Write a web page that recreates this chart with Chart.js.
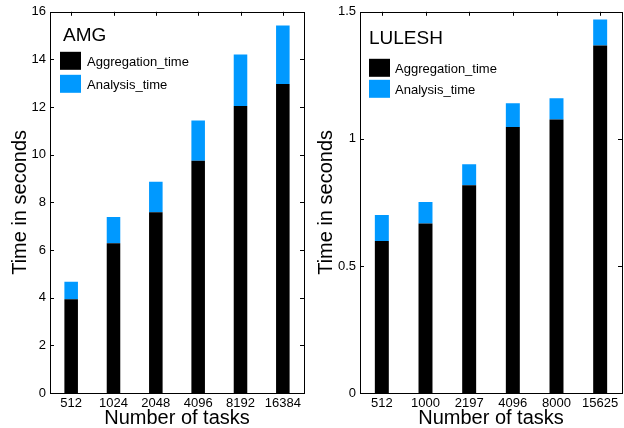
<!DOCTYPE html>
<html>
<head>
<meta charset="utf-8">
<script src="https://cdn.jsdelivr.net/npm/chart.js@4.4.1/dist/chart.umd.min.js"></script>
<style>
  body { margin: 0; background: #fff; }
  #wrap { position: relative; width: 624px; height: 428px; }
  canvas { position: absolute; top: 0; }
</style>
</head>
<body>
<div id="wrap">
  <canvas id="amg" width="312" height="428" style="left:0"></canvas>
  <canvas id="lulesh" width="312" height="428" style="left:312px"></canvas>
</div>
<script>
// data
var amgTasks = ['512', '1024', '2048', '4096', '8192', '16384'];
var amgAggregation = [3.93, 6.29, 7.59, 9.75, 12.05, 12.97];
var amgAnalysis = [0.74, 1.10, 1.28, 1.69, 2.16, 2.46];

var luleshTasks = ['512', '1000', '2197', '4096', '8000', '15625'];
var luleshAggregation = [0.598, 0.667, 0.817, 1.047, 1.076, 1.367];
var luleshAnalysis = [0.102, 0.085, 0.083, 0.093, 0.084, 0.103];

var FONT = "'Liberation Sans', Arial, Helvetica, sans-serif";

// matlab style box, inward ticks and the legend inside the plot
var boxPlugin = {
    id: 'matlabBox',
    afterDraw: function (chart, args, opts) {
        var ctx = chart.ctx;
        var a = chart.chartArea;
        var x = chart.scales.x, y = chart.scales.y;
        ctx.save();
        ctx.strokeStyle = '#000';
        ctx.lineWidth = 1;
        ctx.strokeRect(Math.round(a.left) + 0.5, Math.round(a.top) + 0.5,
            Math.round(a.right - a.left), Math.round(a.bottom - a.top));
        ctx.beginPath();
        y.ticks.forEach(function (t) {
            var py = Math.round(y.getPixelForValue(t.value)) + 0.5;
            ctx.moveTo(a.left, py); ctx.lineTo(a.left + 4, py);
            ctx.moveTo(a.right, py); ctx.lineTo(a.right - 4, py);
        });
        x.ticks.forEach(function (t, i) {
            var px = Math.round(x.getPixelForTick(i)) + 0.5;
            ctx.moveTo(px, a.top); ctx.lineTo(px, a.top + 4);
            ctx.moveTo(px, a.bottom); ctx.lineTo(px, a.bottom - 4);
        });
        ctx.stroke();

        // legend
        ctx.fillStyle = '#000';
        ctx.textAlign = 'left';
        ctx.textBaseline = 'alphabetic';
        ctx.font = '19px ' + FONT;
        ctx.fillText(opts.title, a.left + opts.tx, a.top + opts.ty);
        ctx.font = '13px ' + FONT;
        chart.data.datasets.forEach(function (ds, i) {
            var by = a.top + opts.by[i];
            ctx.fillStyle = ds.backgroundColor;
            ctx.fillRect(a.left + opts.bx, by, 21, 18);
            ctx.fillStyle = '#000';
            ctx.fillText(ds.label, a.left + opts.lx, by + 14);
        });
        ctx.restore();
    }
};

function makeChart(id, labels, agg, ana, yMax, yStep, pad, yWidth, legend) {
    var ctx = document.getElementById(id).getContext('2d');
    return new Chart(ctx, {
        type: 'bar',
        data: {
            labels: labels,
            datasets: [{
                label: 'Aggregation_time',
                data: agg,
                backgroundColor: '#000000'
            }, {
                label: 'Analysis_time',
                data: ana,
                backgroundColor: '#0099ff'
            }]
        },
        options: {
            responsive: false,
            animation: false,
            devicePixelRatio: 1,
            layout: { padding: pad },
            datasets: {
                bar: { categoryPercentage: 1, barPercentage: 0.32 }
            },
            plugins: {
                legend: { display: false },
                tooltip: { enabled: false },
                matlabBox: legend
            },
            scales: {
                x: {
                    stacked: true,
                    grid: { display: false, drawTicks: false },
                    border: { display: false },
                    ticks: { color: '#000', font: { family: FONT, size: 13 }, padding: 3, maxRotation: 0, autoSkip: false },
                    title: { display: true, text: 'Number of tasks', color: '#000', font: { family: FONT, size: 20, lineHeight: 1 }, padding: 0 },
                    afterFit: function (s) { s.height = 35; }
                },
                y: {
                    stacked: true,
                    min: 0,
                    max: yMax,
                    grid: { display: false, drawTicks: false },
                    border: { display: false },
                    ticks: {
                        stepSize: yStep, color: '#000', padding: 4,
                        font: { family: FONT, size: 13 },
                        callback: function (v) { return String(v); }
                    },
                    title: { display: true, text: 'Time in seconds', color: '#000', font: { family: FONT, size: 20, lineHeight: 1 }, padding: { top: legend.ytp, bottom: 0 } },
                    afterFit: function (s) { s.width = yWidth; }
                }
            }
        },
        plugins: [boxPlugin]
    });
}

makeChart('amg', amgTasks, amgAggregation, amgAnalysis, 16, 2,
    { top: 11, right: 8, left: 0, bottom: 0 }, 50,
    { title: 'AMG', tx: 13, ty: 29, bx: 10, by: [40, 63], lx: 37, ytp: 10 });

makeChart('lulesh', luleshTasks, luleshAggregation, luleshAnalysis, 1.5, 0.5,
    { top: 11, right: 2, left: 0, bottom: 0 }, 48,
    { title: 'LULESH', tx: 9, ty: 32, bx: 9, by: [47, 68], lx: 35, ytp: 4 });
</script>
</body>
</html>
